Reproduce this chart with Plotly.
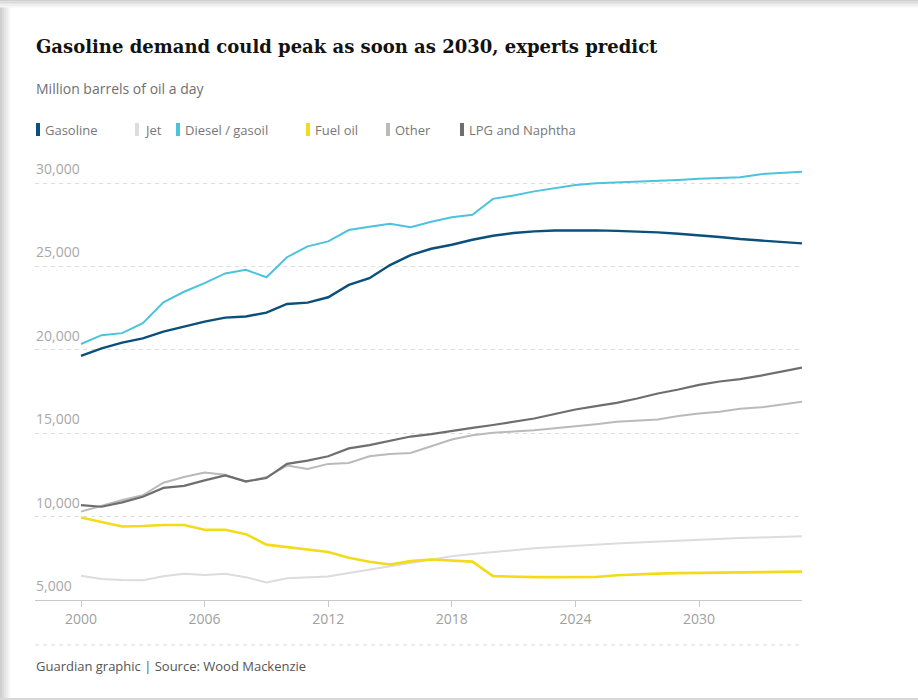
import plotly.graph_objects as go

years = list(range(2000, 2036))

gasoline = [19630, 20090, 20430, 20690, 21090, 21390, 21690, 21930, 22000, 22230,
            22750, 22830, 23150, 23890, 24290, 25080, 25680, 26060, 26300, 26600,
            26840, 27000, 27100, 27150, 27170, 27160, 27130, 27090, 27040, 26960,
            26880, 26760, 26640, 26560, 26450, 26380]
jet = [6450, 6260, 6200, 6180, 6420, 6570, 6500, 6570, 6370, 6050,
       6310, 6370, 6410, 6620, 6820, 7020, 7220, 7450, 7620, 7760,
       7880, 7990, 8100, 8180, 8260, 8330, 8390, 8450, 8510, 8560,
       8610, 8660, 8710, 8750, 8790, 8820]
diesel = [20350, 20880, 21000, 21600, 22850, 23480, 24000, 24580, 24800, 24350,
          25550, 26200, 26500, 27180, 27380, 27550, 27350, 27680, 27950, 28100,
          29050, 29250, 29500, 29700, 29880, 29980, 30020, 30060, 30120, 30180,
          30250, 30300, 30340, 30530, 30620, 30680]
fuel_oil = [9940, 9660, 9410, 9440, 9500, 9500, 9210, 9210, 8950, 8320,
            8160, 8020, 7880, 7530, 7290, 7130, 7330, 7430, 7380, 7300,
            6430, 6380, 6370, 6370, 6370, 6380, 6480, 6550, 6580, 6610,
            6630, 6650, 6660, 6670, 6690, 6700]
other = [10300, 10650, 10990, 11280, 12030, 12370, 12650, 12510, 12080, 12370,
         13060, 12860, 13160, 13220, 13620, 13750, 13810, 14220, 14620, 14880,
         15020, 15100, 15170, 15290, 15400, 15540, 15680, 15750, 15820, 16030,
         16180, 16280, 16470, 16550, 16720, 16880]
lpg = [10690, 10590, 10850, 11190, 11720, 11840, 12170, 12470, 12110, 12310,
       13160, 13360, 13620, 14090, 14290, 14540, 14800, 14940, 15140, 15320,
       15490, 15680, 15880, 16150, 16420, 16620, 16820, 17080, 17380, 17620,
       17900, 18100, 18240, 18450, 18670, 18930]

series_names = ["Gasoline", "Jet", "Diesel / gasoil", "Fuel oil", "Other", "LPG and Naphtha"]
series_values = [gasoline, jet, diesel, fuel_oil, other, lpg]
series_colors = ["#0b4f7c", "#dcdcdc", "#4bc3dc", "#f2dc1a", "#bababa", "#6e6e6e"]
series_widths = [2.4, 2, 2, 2.6, 2, 2.2]

x_ticks = [2000, 2006, 2012, 2018, 2024, 2030]
y_ticks = [5000, 10000, 15000, 20000, 25000, 30000]
y_tick_labels = ["5,000", "10,000", "15,000", "20,000", "25,000", "30,000"]

W, H = 918, 700
L, R, T, B = 35, 116, 160, 100
PW, PH = W - L - R, H - T - B


def px(xp):
    return (xp - L) / PW


def py(yp):
    return (H - B - yp) / PH


fig = go.Figure()
draw_order = [1, 4, 5, 3, 0, 2]
for i in draw_order:
    fig.add_trace(go.Scatter(
        x=years, y=series_values[i], name=series_names[i], mode="lines",
        line=dict(color=series_colors[i], width=series_widths[i]),
        showlegend=False, hoverinfo="x+y+name"))

font_main = "Open Sans, Noto Sans, sans-serif"

fig.update_layout(
    width=W, height=H,
    margin=dict(l=L, r=R, t=T, b=B),
    paper_bgcolor="white", plot_bgcolor="white",
    xaxis=dict(
        range=[1997.767, 2035.0], tickvals=x_ticks, ticktext=[str(v) for v in x_ticks],
        showgrid=False, zeroline=False, showline=True, linecolor="#c8c8c8", linewidth=1,
        ticks="outside", ticklen=6, tickcolor="#c8c8c8", tickwidth=1,
        tickfont=dict(family=font_main, size=14, color="#a0a0a0"), fixedrange=True),
    yaxis=dict(
        range=[5000, 31380], tickvals=y_ticks, showticklabels=False,
        showgrid=True, gridcolor="#dedede", griddash="4px,4px", gridwidth=1,
        zeroline=False, showline=False, ticks="", fixedrange=True),
)

ann = []
for v, lab in zip(y_ticks, y_tick_labels):
    ann.append(dict(text=lab, x=px(34), y=v, xref="paper", yref="y",
                    xanchor="left", yanchor="bottom", yshift=3, showarrow=False,
                    font=dict(family=font_main, size=14, color="#a8a8a8")))

ann.append(dict(text="<b>Gasoline demand could peak as soon as 2030, experts predict</b>",
                x=px(34), y=py(46), xref="paper", yref="paper", xanchor="left", yanchor="middle",
                showarrow=False, font=dict(family="DejaVu Serif, serif", size=18, color="#121212")))
ann.append(dict(text="Million barrels of oil a day",
                x=px(34), y=py(88), xref="paper", yref="paper", xanchor="left", yanchor="middle",
                showarrow=False, font=dict(family=font_main, size=14, color="#707070")))
ann.append(dict(text="Guardian graphic | Source: Wood Mackenzie",
                x=px(34), y=py(666), xref="paper", yref="paper", xanchor="left", yanchor="middle",
                showarrow=False, font=dict(family=font_main, size=13, color="#555555")))

legend_x = [36, 135, 176, 306, 386, 460]
shapes = []
for name, color, lx in zip(series_names, series_colors, legend_x):
    shapes.append(dict(type="rect", xref="paper", yref="paper",
                       x0=px(lx), x1=px(lx + 4), y0=py(136), y1=py(123),
                       fillcolor=color, line=dict(width=0)))
    ann.append(dict(text=name, x=px(lx + 7), y=py(130), xref="paper", yref="paper",
                    xanchor="left", yanchor="middle", showarrow=False,
                    font=dict(family=font_main, size=13, color="#777777")))

# footer separator
shapes.append(dict(type="line", xref="paper", yref="paper", x0=px(35), x1=px(802),
                   y0=py(645), y1=py(645), line=dict(color="#dcdcdc", width=1, dash="4px,4px")))
# card frame shading
for i, c in enumerate(["#cfcfcf", "#dadada", "#e4e4e4", "#ededed", "#f5f5f5"]):
    shapes.append(dict(type="rect", xref="paper", yref="paper", x0=px(0), x1=px(W),
                       y0=py(1.5 * i), y1=py(1.5 * i + 1.5), fillcolor=c, line=dict(width=0),
                       layer="below"))
    shapes.append(dict(type="rect", xref="paper", yref="paper", x0=px(2 * i), x1=px(2 * i + 2),
                       y0=py(H), y1=py(7), fillcolor=c, line=dict(width=0), layer="below"))
shapes.append(dict(type="rect", xref="paper", yref="paper", x0=px(0), x1=px(W),
                   y0=py(H), y1=py(H - 2), fillcolor="#d8d8d8", line=dict(width=0)))

fig.update_layout(annotations=ann, shapes=shapes)
fig.write_html("out.html", config={"displayModeBar": False},
               post_script="document.body.style.margin='0px';")
